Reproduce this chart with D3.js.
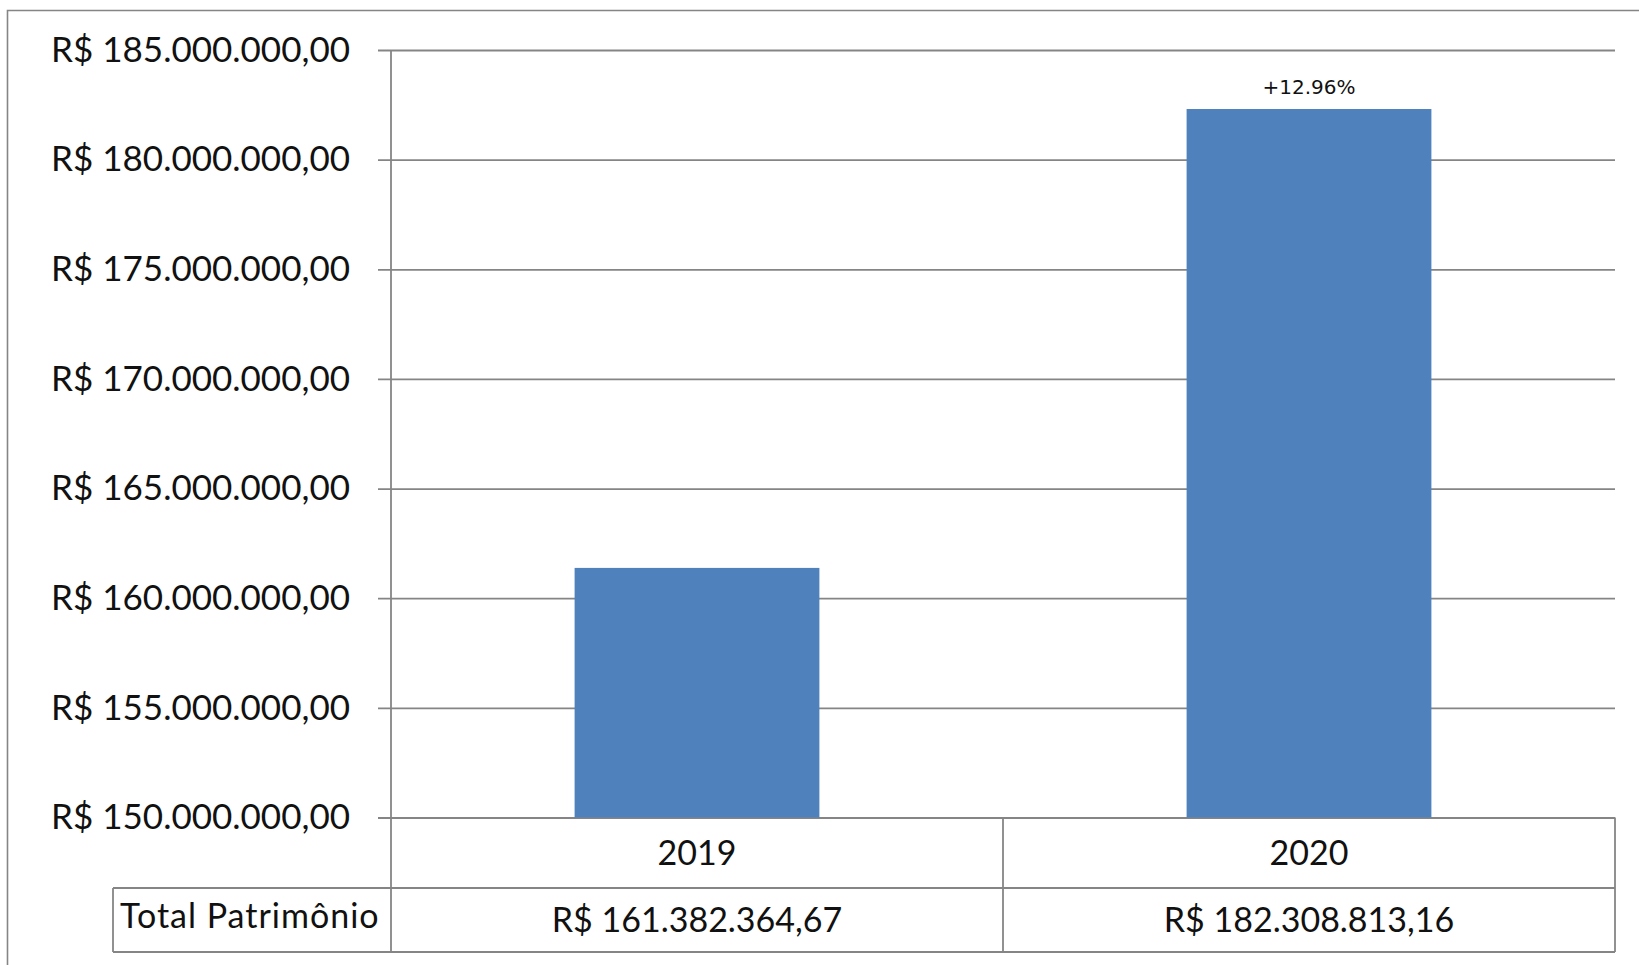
<!DOCTYPE html>
<html>
<head>
<meta charset="utf-8">
<script src="https://cdn.jsdelivr.net/npm/d3@7"></script>
<style>
  body { margin: 0; background: #fff; }
  svg { display: block; }
</style>
</head>
<body>
<svg id="chart" width="1639" height="965"></svg>
<script>
// data
var years = ["2019", "2020"];
var totals = [161382364.67, 182308813.16];
var growthLabels = ["", "+12.96%"];
var yTicks = [150000000, 155000000, 160000000, 165000000, 170000000, 175000000, 180000000, 185000000];
var rowLabel = "Total Patrimônio";

(function(){
    var svg = d3.select("#chart");

    var ptBR = d3.formatLocale({
        decimal: ",",
        thousands: ".",
        grouping: [3],
        currency: ["R$ ", ""]
    });
    var fmt = ptBR.format("$,.2f");

    // layout (window.top is reserved, so plot* names)
    var plotLeft = 391, plotRight = 1615, plotTop = 50, plotBottom = 817.5;
    var tableRow1 = 888, tableRow2 = 952, rowLabelLeft = 113;
    var gridColor = "#858585";
    var labelFont = "Lato, 'DejaVu Sans', sans-serif";

    var x = d3.scaleBand().domain(years).range([plotLeft, plotRight]).paddingInner(0).paddingOuter(0);
    var y = d3.scaleLinear().domain([150000000, 185000000]).range([plotBottom, plotTop]);

    // outer frame
    svg.append("path")
        .attr("d", "M7.5,970 V10.5 H1650")
        .attr("fill", "none")
        .attr("stroke", gridColor)
        .attr("stroke-width", 1.6);

    // gridlines with tick stubs
    var grid = svg.append("g")
        .attr("transform", "translate(378,0)")
        .call(d3.axisRight(y).tickValues(yTicks).tickSize(plotRight - 378).tickFormat(""));
    grid.select(".domain").remove();
    grid.selectAll("line").attr("stroke", gridColor).attr("stroke-width", 1.8);

    // bars
    var barFrac = 0.4;
    svg.append("g").selectAll("rect")
        .data(years)
        .enter().append("rect")
        .attr("x", function(d) { return x(d) + x.bandwidth() * (1 - barFrac) / 2; })
        .attr("width", x.bandwidth() * barFrac)
        .attr("y", function(d, i) { return y(totals[i]); })
        .attr("height", function(d, i) { return plotBottom - y(totals[i]); })
        .attr("fill", "#4f81bd");

    // growth label
    svg.append("g").selectAll("text")
        .data(years)
        .enter().append("text")
        .attr("x", function(d) { return x(d) + x.bandwidth() / 2; })
        .attr("y", function(d, i) { return y(totals[i]) - 15; })
        .attr("text-anchor", "middle")
        .attr("font-family", "'DejaVu Sans', sans-serif")
        .attr("font-size", 20)
        .attr("fill", "#111")
        .text(function(d, i) { return growthLabels[i]; });

    // y labels
    var yAxis = svg.append("g")
        .attr("transform", "translate(" + plotLeft + ",0)")
        .call(d3.axisLeft(y).tickValues(yTicks).tickSize(0).tickPadding(41).tickFormat(fmt));
    yAxis.select(".domain").remove();
    yAxis.selectAll("text")
        .attr("font-family", labelFont)
        .attr("font-size", 35)
        .attr("fill", "#111");

    // axis / table lines
    var lines = [
        [plotLeft, plotTop, plotLeft, tableRow2],
        [rowLabelLeft, tableRow1, plotRight, tableRow1],
        [rowLabelLeft, tableRow2, plotRight, tableRow2],
        [rowLabelLeft, tableRow1, rowLabelLeft, tableRow2],
        [x(years[1]), plotBottom, x(years[1]), tableRow2],
        [plotRight, plotBottom, plotRight, tableRow2]
    ];
    svg.append("g").selectAll("line")
        .data(lines)
        .enter().append("line")
        .attr("x1", function(d) { return d[0]; })
        .attr("y1", function(d) { return d[1]; })
        .attr("x2", function(d) { return d[2]; })
        .attr("y2", function(d) { return d[3]; })
        .attr("stroke", gridColor)
        .attr("stroke-width", 1.8);

    // table: years row
    svg.append("g").selectAll("text")
        .data(years)
        .enter().append("text")
        .attr("x", function(d) { return x(d) + x.bandwidth() / 2; })
        .attr("y", (plotBottom + tableRow1) / 2)
        .attr("dy", "0.35em")
        .attr("text-anchor", "middle")
        .attr("font-family", labelFont)
        .attr("font-size", 34)
        .attr("fill", "#111")
        .text(function(d) { return d; });

    // table: values row
    svg.append("g").selectAll("text")
        .data(years)
        .enter().append("text")
        .attr("x", function(d) { return x(d) + x.bandwidth() / 2; })
        .attr("y", (tableRow1 + tableRow2) / 2)
        .attr("dy", "0.35em")
        .attr("text-anchor", "middle")
        .attr("font-family", labelFont)
        .attr("font-size", 34)
        .attr("fill", "#111")
        .text(function(d, i) { return fmt(totals[i]); });

    svg.append("text")
        .attr("x", rowLabelLeft + 7)
        .attr("y", (tableRow1 + tableRow2) / 2 - 4)
        .attr("dy", "0.35em")
        .attr("font-family", labelFont)
        .attr("font-size", 34)
        .attr("letter-spacing", 1)
        .attr("fill", "#111")
        .text(rowLabel);
})();
</script>
</body>
</html>
